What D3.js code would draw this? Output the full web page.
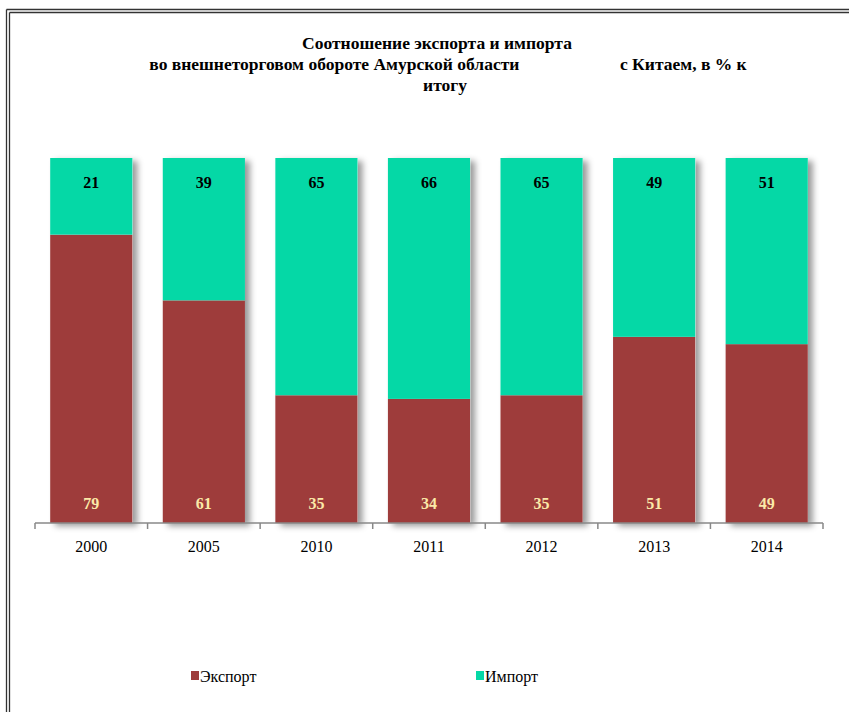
<!DOCTYPE html>
<html><head><meta charset="utf-8">
<script src="https://cdn.jsdelivr.net/npm/d3@7"></script>
<style>body{margin:0;background:#fff}svg{display:block}</style>
</head><body>
<script>
const years = ["2000","2005","2010","2011","2012","2013","2014"];
const exportVals = [79,61,35,34,35,51,49];
const importVals = [21,39,65,66,65,49,51];
const seriesNames = ["Экспорт","Импорт"];
const colors = ["#9e3c3b","#05d8a6"];
const titleLines = ["Соотношение экспорта и импорта","во внешнеторговом обороте Амурской области                       с Китаем, в % к","итогу"];

const W=849,H=712;
const lf="'Liberation Serif','DejaVu Serif Condensed','DejaVu Serif',serif";
const svg=d3.select("body").append("svg").attr("width",W).attr("height",H);
const defs=svg.append("defs");
const f=defs.append("filter").attr("id","sh").attr("x","-20%").attr("y","-5%").attr("width","150%").attr("height","115%");
f.append("feDropShadow").attr("dx",5).attr("dy",3).attr("stdDeviation",3).attr("flood-color","#000").attr("flood-opacity",0.4);

// border
const bc="#333";
svg.append("line").attr("x1",6.5).attr("x2",W).attr("y1",9.5).attr("y2",9.5).attr("stroke",bc).attr("stroke-width",1.3);
svg.append("line").attr("x1",9.5).attr("x2",W).attr("y1",12.5).attr("y2",12.5).attr("stroke",bc).attr("stroke-width",1.3);
svg.append("line").attr("x1",6.5).attr("x2",6.5).attr("y1",9.5).attr("y2",H).attr("stroke",bc).attr("stroke-width",1.3);
svg.append("line").attr("x1",9.5).attr("x2",9.5).attr("y1",12.5).attr("y2",H).attr("stroke",bc).attr("stroke-width",1.3);

// title
const tt=svg.append("g").style("font-family",lf).attr("font-weight","bold").attr("font-size","17.5px").attr("fill","#000").attr("text-anchor","middle");
tt.append("text").attr("x",437).attr("y",49).text(titleLines[0]);
tt.append("text").attr("x",448).attr("y",70).style("white-space","pre").text(titleLines[1]);
tt.append("text").attr("x",445).attr("y",91).text(titleLines[2]);

const x=d3.scaleBand().domain(years).range([35,823]).paddingInner(0.27).paddingOuter(0.135);
const y=d3.scaleLinear().domain([0,100]).range([523,158]);

const data=years.map((yr,i)=>({yr,exp:exportVals[i],imp:importVals[i]}));
const stack=d3.stack().keys(["exp","imp"])(data);

const gBars=svg.append("g");
gBars.selectAll("rect.sh").data(data).join("rect")
 .attr("x",d=>x(d.yr)).attr("width",x.bandwidth())
 .attr("y",y(100)).attr("height",y(0)-y(100)).attr("fill","#fff").attr("filter","url(#sh)");
stack.forEach((s,si)=>{
 gBars.selectAll("rect.s"+si).data(s).join("rect")
  .attr("x",d=>x(d.data.yr)).attr("width",x.bandwidth())
  .attr("y",d=>y(d[1])).attr("height",d=>y(d[0])-y(d[1])).attr("fill",colors[si]);
});

// axis
const axisG=svg.append("g").attr("transform","translate(0,523)");
axisG.append("line").attr("x1",35).attr("x2",823).attr("stroke","#888").attr("stroke-width",1.5);
const bounds=d3.range(years.length+1).map(i=>35+i*(788/years.length));
axisG.selectAll("line.t").data(bounds).join("line").attr("x1",d=>d).attr("x2",d=>d).attr("y1",0).attr("y2",6).attr("stroke","#888").attr("stroke-width",1.5);
axisG.selectAll("text").data(years).join("text").attr("x",d=>x(d)+x.bandwidth()/2).attr("y",29)
 .attr("text-anchor","middle").style("font-family",lf).attr("font-size","16px").attr("fill","#000").text(d=>d);

// labels
svg.selectAll("text.il").data(data).join("text").attr("x",d=>x(d.yr)+x.bandwidth()/2).attr("y",188)
 .attr("text-anchor","middle").style("font-family",lf).attr("font-weight","bold").attr("font-size","16px").attr("fill","#000").text(d=>d.imp);
svg.selectAll("text.el").data(data).join("text").attr("x",d=>x(d.yr)+x.bandwidth()/2).attr("y",509)
 .attr("text-anchor","middle").style("font-family",lf).attr("font-weight","bold").attr("font-size","16px").attr("fill","#fbe9a8").text(d=>d.exp);

// legend
const lg=svg.append("g").style("font-family",lf).attr("font-size","16px");
const lx=[191,476];
seriesNames.forEach((n,i)=>{
 lg.append("rect").attr("x",lx[i]).attr("y",671).attr("width",8).attr("height",9).attr("fill",colors[i]);
 lg.append("text").attr("x",lx[i]+9).attr("y",682).text(n).attr("fill","#000");
});
</script>
</body></html>
